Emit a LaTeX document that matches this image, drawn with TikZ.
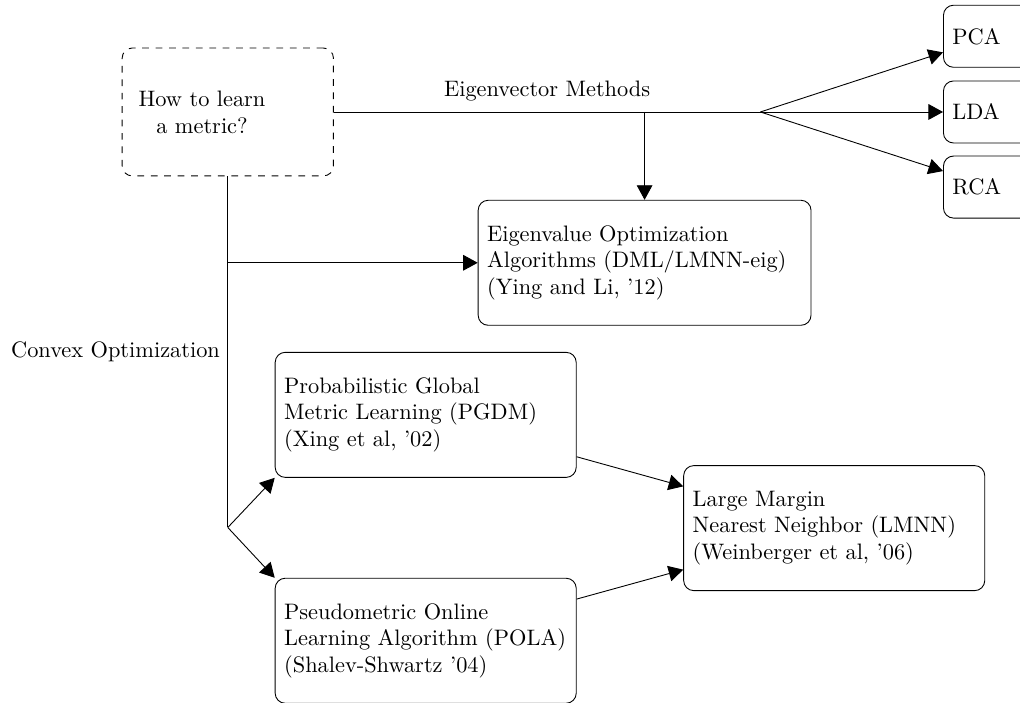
\documentclass[tikz,border=0pt]{standalone}
\usepackage{tikz}
\usetikzlibrary{arrows.meta}

\begin{document}
\begin{tikzpicture}[
    box/.style={draw, rounded corners=4.5pt, align=left, inner sep=4pt,
      minimum height=1.965cm},
    smallbox/.style={draw, rounded corners=4.5pt, align=left, inner sep=4pt,
      text width=1.26cm, minimum height=0.975cm, anchor=west},
    startbox/.style={draw, dashed, rounded corners=4.5pt,
      minimum width=3.32cm, minimum height=2.01cm},
    arr/.style={-{Triangle[length=6.5pt,width=7pt]}}
  ]
  \useasboundingbox (0,0) rectangle (16.03,11.04);

  % ── Start: the question ───────────────────────────────────
  \node[startbox] (how) at (3.58,9.28) {};
  \node[align=center] (howtext) at (3.175,9.28) {How to learn\\a metric?};

  % ── Eigenvector methods ───────────────────────────────────
  \coordinate (split) at (11.95,9.28);
  \node[smallbox] (pca) at (14.82,10.47) {PCA};
  \node[smallbox] (lda) at (14.82,9.28) {LDA};
  \node[smallbox] (rca) at (14.82,8.10) {RCA};
  \node[box, text width=4.95cm] (eig) at (10.13,6.91)
    {Eigenvalue Optimization\\Algorithms (DML/LMNN-eig)\\(Ying and Li, '12)};

  % ── Convex optimization ───────────────────────────────────
  \coordinate (branch) at (3.58,2.75);
  \node[box, text width=4.45cm] (pgdm) at (6.69,4.52)
    {Probabilistic Global\\Metric Learning (PGDM)\\(Xing et al, '02)};
  \node[box, text width=4.45cm] (pola) at (6.69,0.97)
    {Pseudometric Online\\Learning Algorithm (POLA)\\(Shalev-Shwartz '04)};
  \node[box, text width=4.45cm] (lmnn) at (13.11,2.74)
    {Large Margin\\Nearest Neighbor (LMNN)\\(Weinberger et al, '06)};

  % Connectors
  \draw (how.east) -- node[midway, above, yshift=1.5pt] {Eigenvector Methods}
    (split);
  \draw[arr] (split) -- (pca);
  \draw[arr] (split) -- (lda);
  \draw[arr] (split) -- (rca);
  \draw[arr] (eig.north |- split) -- (eig.north);
  \draw (how.south) -- node[midway, left] {Convex Optimization} (branch);
  \draw[arr] (how.south |- eig.west) -- (eig.west);
  \draw[arr] (branch) -- (pgdm.south west);
  \draw[arr] (branch) -- (pola.north west);
  \draw[arr] (pgdm) -- (lmnn);
  \draw[arr] (pola) -- (lmnn);
\end{tikzpicture}
\end{document}
